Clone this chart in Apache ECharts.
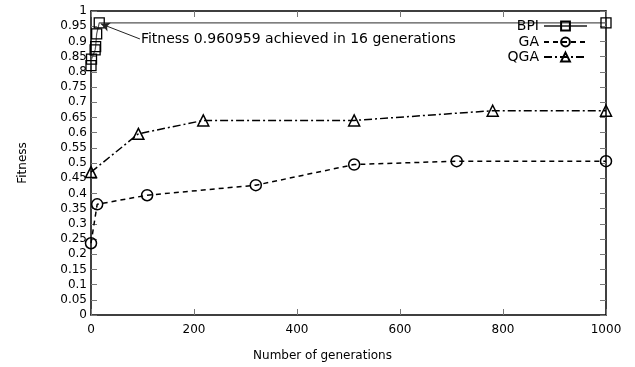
<!DOCTYPE html>
<html>
<head>
<meta charset="utf-8">
<script src="https://cdn.jsdelivr.net/npm/echarts@6/dist/echarts.min.js"></script>
<style>html,body{margin:0;padding:0;background:#fff}#c{width:635px;height:367px}</style>
</head>
<body>
<div id="c"></div>
<script>
const bpiX = [0, 1, 8, 9, 11, 16, 1000];
const bpiY = [0.82, 0.842, 0.872, 0.883, 0.925, 0.960959, 0.960959];
const gaX = [0, 12, 109, 320, 511, 710, 1000];
const gaY = [0.236, 0.364, 0.394, 0.427, 0.495, 0.506, 0.506];
const qgaX = [0, 92, 218, 511, 780, 1000];
const qgaY = [0.47, 0.596, 0.640, 0.640, 0.672, 0.672];
const seriesNames = ['BPI', 'GA', 'QGA'];
const xTicks = [0, 200, 400, 600, 800, 1000];
const annotationText = 'Fitness 0.960959 achieved in 16 generations';
const annotationFrom = [95, 0.908];
const annotationTo = [19, 0.958];

const zip = (xs, ys) => xs.map((x, i) => [x, ys[i]]);
const FONT = 'DejaVu Sans';
const chart = echarts.init(document.getElementById('c'), null, {renderer: 'canvas'});

const axisCommon = {
  min: 0,
  axisLine: {show: true, onZero: false, lineStyle: {color: '#000', width: 1.5}},
  axisTick: {show: true, inside: true, length: 6, lineStyle: {color: '#777', width: 1}},
  splitLine: {show: false}
};

chart.setOption({
  animation: false,
  textStyle: {fontFamily: FONT, color: '#000'},
  grid: {left: 91, right: 29, top: 11, bottom: 51},
  xAxis: [
    Object.assign({}, axisCommon, {
      type: 'value', position: 'bottom', max: xTicks[xTicks.length - 1], interval: 200,
      name: 'Number of generations', nameLocation: 'middle', nameGap: 35,
      nameTextStyle: {fontFamily: FONT, fontSize: 12, color: '#000', padding: [0, 52, 0, 0]},
      axisLabel: {fontFamily: FONT, fontSize: 12, color: '#000', margin: 9,
        formatter: v => String(v)}
    }),
    Object.assign({}, axisCommon, {
      type: 'value', position: 'top', max: xTicks[xTicks.length - 1], interval: 200,
      axisLabel: {show: false}
    })
  ],
  yAxis: [
    Object.assign({}, axisCommon, {
      type: 'value', position: 'left', max: 1, interval: 0.05,
      name: 'Fitness', nameLocation: 'middle', nameGap: 62,
      nameTextStyle: {fontFamily: FONT, fontSize: 12, color: '#000'},
      axisLabel: {fontFamily: FONT, fontSize: 12, color: '#000', margin: 4}
    }),
    Object.assign({}, axisCommon, {
      type: 'value', position: 'right', max: 1, interval: 0.05,
      axisLabel: {show: false}
    })
  ],
  legend: seriesNames.map((n, i) => ({
    data: [n], orient: 'vertical', right: 47, top: [19, 35, 50][i], padding: 0,
    align: 'right', itemWidth: 43, itemHeight: 11,
    textStyle: {fontFamily: FONT, fontSize: 14, color: '#000'}
  })),
  series: [
    {
      name: seriesNames[0], type: 'line', data: zip(bpiX, bpiY),
      symbol: 'rect', symbolSize: 10, showAllSymbol: true,
      lineStyle: {color: '#555', width: 1.2, type: 'solid'},
      itemStyle: {color: 'rgba(0,0,0,0)', borderColor: '#000', borderWidth: 1.3},
      color: '#555',
      markLine: {
        silent: true, symbol: ['none', 'arrow'], symbolSize: [7, 9],
        label: {show: false},
        lineStyle: {color: '#222', width: 1, type: 'solid'},
        data: [[{coord: annotationFrom}, {coord: annotationTo}]]
      },
      markPoint: {
        silent: true, symbol: 'circle', symbolSize: 0,
        itemStyle: {color: 'rgba(0,0,0,0)'},
        label: {show: true, position: 'right', distance: 1, formatter: annotationText,
          fontFamily: FONT, fontSize: 14, color: '#000'},
        data: [{coord: annotationFrom}]
      }
    },
    {
      name: seriesNames[1], type: 'line', data: zip(gaX, gaY),
      symbol: 'circle', symbolSize: 11,
      lineStyle: {color: '#000', width: 1.5, type: [5, 4]},
      itemStyle: {color: 'rgba(0,0,0,0)', borderColor: '#000', borderWidth: 1.5},
      color: '#000'
    },
    {
      name: seriesNames[2], type: 'line', data: zip(qgaX, qgaY),
      symbol: 'triangle', symbolSize: 11,
      lineStyle: {color: '#000', width: 1.5, type: [8, 3, 2, 3]},
      itemStyle: {color: 'rgba(0,0,0,0)', borderColor: '#000', borderWidth: 1.5},
      color: '#000'
    }
  ]
});
</script>
</body>
</html>
